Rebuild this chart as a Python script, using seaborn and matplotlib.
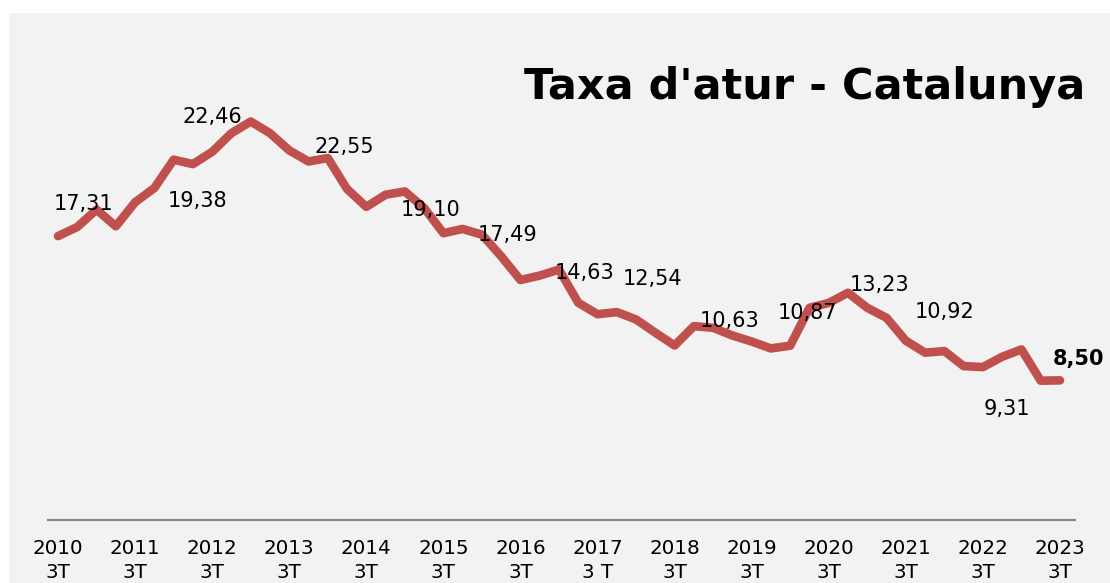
import numpy as np
import pandas as pd
import matplotlib.pyplot as plt
import seaborn as sns
from matplotlib.patches import Rectangle

# Taxa d'atur Catalunya, trimestral 2010 3T - 2023 3T
# quarter labels: 2010 3T, 2010 4T, 2011 1T, ...
quarters = []
yr, q = 2010, 3
while (yr, q) <= (2023, 3):
    quarters.append(f"{yr} {q}T")
    q += 1
    if q > 4:
        q = 1
        yr += 1

rate = [17.31, 17.87, 18.93, 17.91, 19.38, 20.25, 21.98, 21.71,
        22.46, 23.60, 24.31, 23.60, 22.55, 21.87, 22.08, 20.19,
        19.10, 19.84, 20.04, 19.03, 17.49, 17.75, 17.40, 16.08,
        14.63, 14.90, 15.27, 13.24, 12.54, 12.67, 12.22, 11.41,
        10.63, 11.81, 11.71, 11.24, 10.87, 10.45, 10.62, 12.93,
        13.23, 13.85, 12.93, 12.32, 10.92, 10.19, 10.29, 9.37,
        9.31, 9.94, 10.39, 8.48, 8.50]

tick_labels = ["2010\n3T", "2011\n3T", "2012\n3T", "2013\n3T", "2014\n3T",
               "2015\n3T", "2016\n3T", "2017\n3 T", "2018\n3T", "2019\n3T",
               "2020\n3T", "2021\n3T", "2022\n3T", "2023\n3T"]

# labelled points (index) and label offsets in pixels
label_idx = [0, 4, 8, 12, 16, 20, 24, 28, 32, 36, 40, 44, 48, 52]
label_off = [(25, 32), (62, 1), (0, 35), (55, 3), (64, -3), (64, -2), (64, 7),
             (55, 35), (55, 24), (56, 29), (51, 18), (39, 29), (24, -42), (19, 21)]

df = pd.DataFrame({"idx": np.arange(len(rate)), "quarter": quarters, "rate": rate})

bg = "#F2F2F2"
red = "#C0504D"

fig = plt.figure(figsize=(11.1, 5.83), dpi=100)
fig.patch.set_facecolor("white")
fig.patches.append(Rectangle((9 / 1110, 0), 1, 1 - 13 / 583, transform=fig.transFigure,
                             facecolor=bg, edgecolor="none", zorder=-5))

ax = fig.add_axes([48 / 1110, (583 - 519.5) / 583, (1075 - 48) / 1110, (519.5 - 28.4) / 583])
ax.set_facecolor("none")
ax.set_zorder(2)

sns.lineplot(data=df, x="idx", y="rate", color=red, linewidth=6.2, ax=ax,
             solid_capstyle="round", solid_joinstyle="round")

for i, (dx, dy) in zip(label_idx, label_off):
    bold = i == len(rate) - 1
    txt = f"{rate[i]:.2f}".replace(".", ",")
    ax.annotate(txt, (i, rate[i]), xytext=(dx, dy), textcoords="offset pixels",
                ha="center", va="center", fontsize=15,
                fontweight="bold" if bold else "normal", color="black")

ax.set_xlim(-0.52, 52.78)
ax.set_ylim(0, 30)
ax.set_xticks(np.arange(0, len(rate), 4))
ax.set_xticklabels(tick_labels, fontsize=14.3, linespacing=1.35)
ax.tick_params(axis="x", length=0, pad=14)
ax.set_yticks([])
ax.set_xlabel("")
ax.set_ylabel("")
for s in ["top", "right", "left"]:
    ax.spines[s].set_visible(False)
ax.spines["bottom"].set_color("#898989")
ax.spines["bottom"].set_linewidth(1.6)

fig.text(1085 / 1110, 1 - 87 / 583, "Taxa d'atur - Catalunya", ha="right", va="center",
         fontsize=31, fontweight="bold", color="black")

fig.savefig("out.png", dpi=100, facecolor=fig.get_facecolor())
